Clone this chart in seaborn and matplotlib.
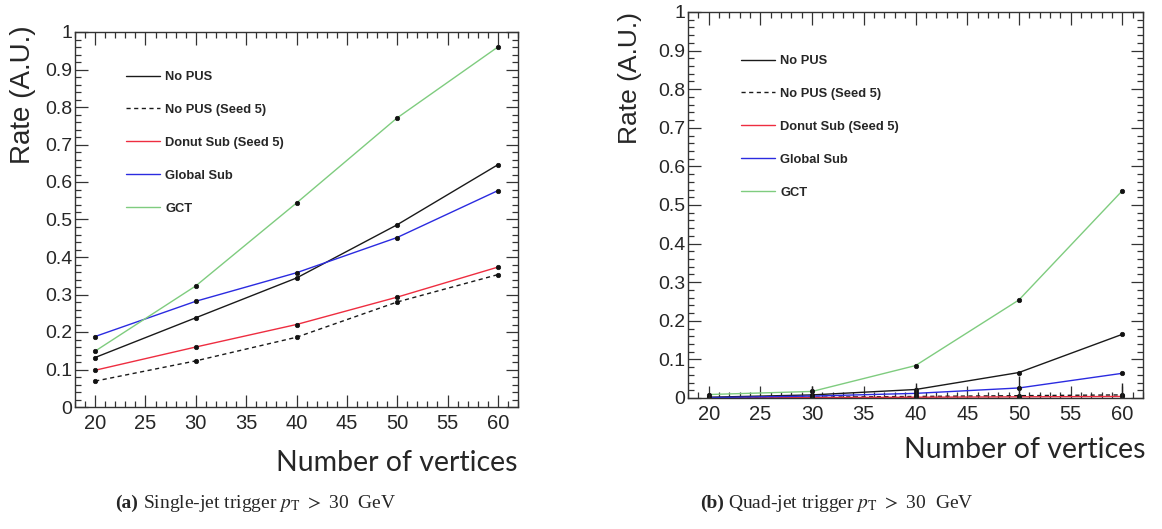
import numpy as np
import pandas as pd
import matplotlib
matplotlib.use("Agg")
import matplotlib.pyplot as plt
import seaborn as sns
from matplotlib.lines import Line2D
from matplotlib.ticker import MultipleLocator, FuncFormatter

# ---------------- data ----------------
vertices = [20, 30, 40, 50, 60]
series_names = ["No PUS", "No PUS (Seed 5)", "Donut Sub (Seed 5)", "Global Sub", "GCT"]

single_no_pus = [0.132, 0.238, 0.344, 0.486, 0.646]
single_no_pus_seed5 = [0.069, 0.123, 0.186, 0.280, 0.353]
single_donut = [0.098, 0.160, 0.220, 0.293, 0.373]
single_global = [0.188, 0.282, 0.358, 0.452, 0.577]
single_gct = [0.149, 0.323, 0.544, 0.771, 0.960]

quad_no_pus = [0.002, 0.008, 0.022, 0.066, 0.165]
quad_no_pus_seed5 = [0.000, 0.002, 0.004, 0.006, 0.008]
quad_donut = [0.000, 0.001, 0.002, 0.003, 0.004]
quad_global = [0.001, 0.005, 0.012, 0.026, 0.064]
quad_gct = [0.009, 0.017, 0.084, 0.254, 0.537]
quad_seed5_err = [0.010, 0.030, 0.035, 0.050, 0.030]

colors = ["#1a1a1a", "#1a1a1a", "#ee2d40", "#2b2be0", "#7fcc7f"]
styles = ["-", (0, (3, 2.5)), "-", "-", "-"]

def long_df(values):
    rows = []
    for name, vals in zip(series_names, values):
        for v, r in zip(vertices, vals):
            rows.append({"vertices": v, "rate": r, "series": name})
    return pd.DataFrame(rows)

df_single = long_df([single_no_pus, single_no_pus_seed5, single_donut, single_global, single_gct])
df_quad = long_df([quad_no_pus, quad_no_pus_seed5, quad_donut, quad_global, quad_gct])

# ---------------- style ----------------
sns.set_style("white")
plt.rcParams["font.family"] = ["Liberation Sans", "DejaVu Sans"]
plt.rcParams["mathtext.fontset"] = "stix"

fig = plt.figure(figsize=(11.62, 5.29), dpi=100)
W, H = 1162.0, 529.0

def ax_rect(x0, y0, x1, y1):
    return [x0 / W, 1 - y1 / H, (x1 - x0) / W, (y1 - y0) / H]

ax1 = fig.add_axes(ax_rect(75, 32, 518, 407))
ax2 = fig.add_axes(ax_rect(688, 12, 1143, 398))

def draw(ax, df, legend_pos):
    for name, c, ls in zip(series_names, colors, styles):
        sub = df[df["series"] == name]
        sns.lineplot(data=sub, x="vertices", y="rate", ax=ax, color=c,
                     linestyle=ls, lw=1.0, marker="o", markersize=3.2,
                     mfc="#111111", mec="#111111", mew=0.5,
                     errorbar=None, legend=False)
    ax.set_xlim(18, 62)
    ax.set_ylim(0, 1)
    ax.xaxis.set_major_locator(MultipleLocator(5))
    ax.xaxis.set_minor_locator(MultipleLocator(1))
    ax.yaxis.set_major_locator(MultipleLocator(0.1))
    ax.yaxis.set_minor_locator(MultipleLocator(0.02))
    ax.yaxis.set_major_formatter(FuncFormatter(lambda v, p: f"{v:.1f}".rstrip("0").rstrip(".") if v != 0 else "0"))
    ax.tick_params(which="both", direction="in", top=True, right=True,
                   bottom=True, left=True, color="#333333", width=0.9)
    ax.tick_params(which="major", length=9)
    ax.tick_params(which="minor", length=4.5)
    ax.tick_params(axis="y", labelsize=14, pad=2)
    ax.tick_params(axis="x", labelsize=14.5, pad=5)
    for s in ax.spines.values():
        s.set_color("#333333")
        s.set_linewidth(1.0)
    ax.set_xlabel("")
    ax.set_ylabel("")
    handles = [Line2D([0], [0], color=c, linestyle=ls, lw=1.0) for c, ls in zip(colors, styles)]
    ax.legend(handles, series_names, loc="upper left", bbox_to_anchor=legend_pos,
              bbox_transform=fig.transFigure, frameon=False,
              prop={"family": "Liberation Sans", "weight": "bold", "size": 9.3},
              handlelength=2.6, handletextpad=0.45, labelspacing=1.62, borderpad=0,
              borderaxespad=0)

draw(ax1, df_single, (126 / W, 1 - 71 / H))
draw(ax2, df_quad, (741 / W, 1 - 55 / H))

# error bars on quad near-zero series
ax2.errorbar(vertices, quad_no_pus_seed5, yerr=quad_seed5_err, fmt="none",
             ecolor="#222222", elinewidth=1.0, capsize=0)

# ---------------- labels ----------------
lab_font = ["Lato", "DejaVu Sans"]
fig.text(23 / W, 1 - 95 / H, "Rate (A.U.)", rotation=90, ha="center", va="center",
         fontsize=20, family=["Liberation Sans"])
fig.text(630 / W, 1 - 78 / H, "Rate (A.U.)", rotation=90, ha="center", va="center",
         fontsize=19, family=["Liberation Sans"])
fig.text(517 / W, 1 - 463 / H, "Number of vertices", ha="right", va="center",
         fontsize=20.5, family=lab_font)
fig.text(1145 / W, 1 - 450 / H, "Number of vertices", ha="right", va="center",
         fontsize=20.5, family=lab_font)

cap_font = ["Liberation Serif", "DejaVu Serif"]
fig.text(115 / W, 1 - 503 / H, "(a)", ha="left", va="center", fontsize=14,
         family=cap_font, weight="bold")
fig.text(143 / W, 1 - 503 / H, r"Single-jet trigger $p_{\mathrm{T}}$ $>$ 30  GeV",
         ha="left", va="center", fontsize=14, family=cap_font)
fig.text(700 / W, 1 - 503 / H, "(b)", ha="left", va="center", fontsize=14,
         family=cap_font, weight="bold")
fig.text(728 / W, 1 - 503 / H, r"Quad-jet trigger $p_{\mathrm{T}}$ $>$ 30  GeV",
         ha="left", va="center", fontsize=14, family=cap_font)

fig.savefig("out.png", dpi=100)
